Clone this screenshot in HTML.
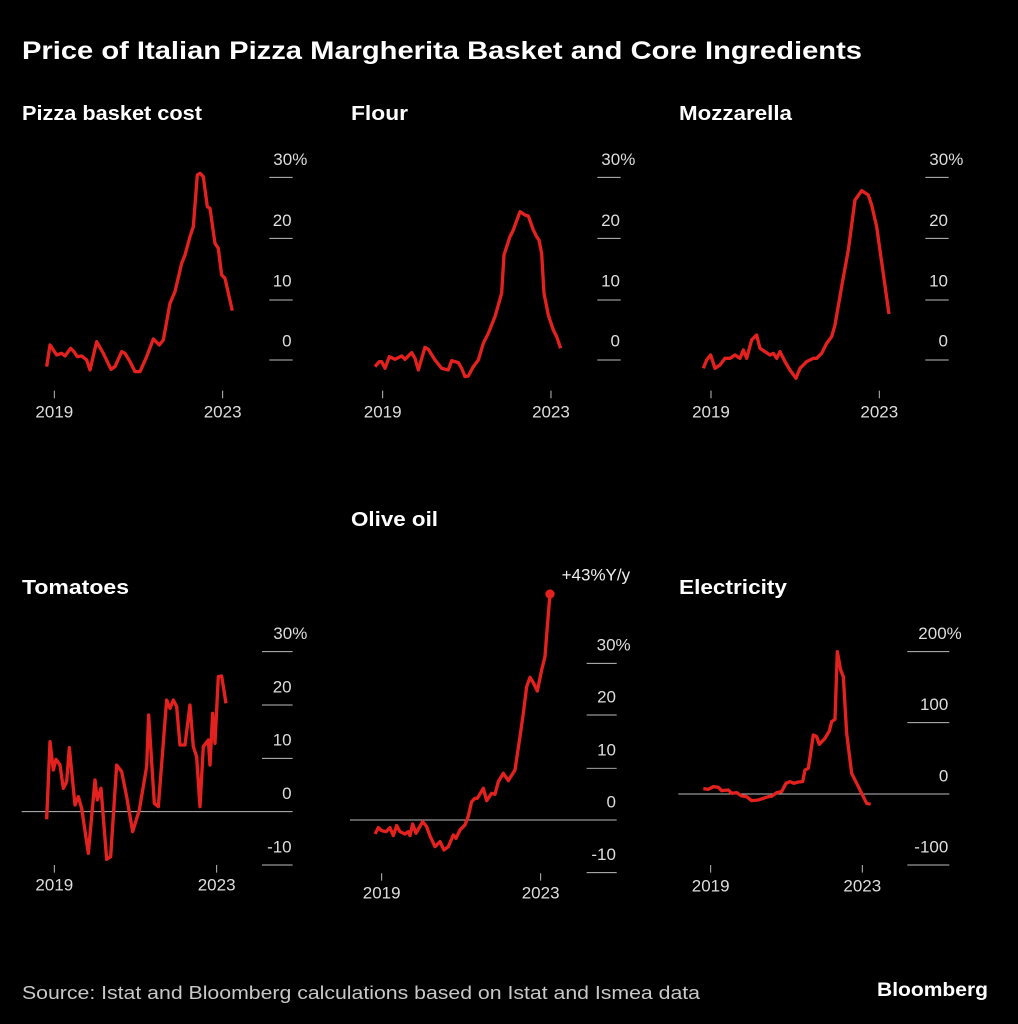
<!DOCTYPE html>
<html><head><meta charset="utf-8"><style>html,body{margin:0;padding:0;background:#000;}svg{display:block}</style></head>
<body>
<svg width="1018" height="1024" viewBox="0 0 1018 1024" xmlns="http://www.w3.org/2000/svg" font-family="Liberation Sans, sans-serif">
<rect width="1018" height="1024" fill="#000"/>
<text x="22" y="59" fill="#fff" font-size="25" font-weight="bold" textLength="840" lengthAdjust="spacingAndGlyphs">Price of Italian Pizza Margherita Basket and Core Ingredients</text>
<g fill="#fff" font-size="20" font-weight="bold">
<text x="22" y="120" textLength="180" lengthAdjust="spacingAndGlyphs">Pizza basket cost</text>
<text x="351" y="120" textLength="57" lengthAdjust="spacingAndGlyphs">Flour</text>
<text x="679" y="120" textLength="113" lengthAdjust="spacingAndGlyphs">Mozzarella</text>
<text x="22" y="594" textLength="107" lengthAdjust="spacingAndGlyphs">Tomatoes</text>
<text x="351" y="526" textLength="87" lengthAdjust="spacingAndGlyphs">Olive oil</text>
<text x="679" y="594" textLength="108" lengthAdjust="spacingAndGlyphs">Electricity</text>
</g>
<text x="22" y="999" fill="#c8c8c8" font-size="18" textLength="678" lengthAdjust="spacingAndGlyphs">Source: Istat and Bloomberg calculations based on Istat and Ismea data</text>
<text x="988" y="996" fill="#fff" font-size="19" font-weight="bold" text-anchor="end" textLength="111" lengthAdjust="spacingAndGlyphs">Bloomberg</text>

<!-- Pizza -->
<g transform="translate(0,140) scale(0.3333)">
<g stroke="#bbb" stroke-width="3"><line x1="808" x2="878" y1="112" y2="112"/><line x1="808" x2="878" y1="295" y2="295"/><line x1="808" x2="878" y1="480" y2="480"/><line x1="808" x2="878" y1="660" y2="660"/><line x1="163" x2="163" y1="752" y2="775"/><line x1="668" x2="668" y1="752" y2="775"/></g>
<g fill="#ddd" font-size="51"><text x="820" y="75">30%</text><text x="875" y="258" text-anchor="end">20</text><text x="875" y="440" text-anchor="end">10</text><text x="875" y="620" text-anchor="end">0</text><text x="163" y="832" text-anchor="middle">2019</text><text x="668" y="832" text-anchor="middle">2023</text></g>
<polyline fill="none" stroke="#e3211f" stroke-width="10" stroke-linejoin="round" points="140,680 150,615 170,645 185,640 195,648 212,625 222,635 232,650 245,648 260,660 270,690 290,605 310,640 333,688 345,680 365,635 375,640 390,665 405,695 420,695 440,650 460,597 478,615 490,600 510,490 525,455 545,370 555,345 570,290 580,260 592,105 600,100 610,110 622,200 630,205 645,310 655,325 665,405 675,415 697,512"/>
</g>

<!-- Flour -->
<g transform="translate(340,140) scale(0.3333)">
<g stroke="#bbb" stroke-width="3"><line x1="772" x2="842" y1="112" y2="112"/><line x1="772" x2="842" y1="295" y2="295"/><line x1="772" x2="842" y1="480" y2="480"/><line x1="772" x2="842" y1="660" y2="660"/><line x1="128" x2="128" y1="752" y2="775"/><line x1="633" x2="633" y1="752" y2="775"/></g>
<g fill="#ddd" font-size="51"><text x="784" y="75">30%</text><text x="840" y="258" text-anchor="end">20</text><text x="840" y="440" text-anchor="end">10</text><text x="840" y="620" text-anchor="end">0</text><text x="128" y="832" text-anchor="middle">2019</text><text x="633" y="832" text-anchor="middle">2023</text></g>
<polyline fill="none" stroke="#e3211f" stroke-width="10" stroke-linejoin="round" points="105,680 118,665 125,665 135,685 148,650 165,658 185,648 195,658 215,638 225,655 235,690 255,622 265,628 285,660 305,685 325,690 335,662 355,668 365,685 375,710 385,708 400,680 415,660 430,610 445,580 465,530 485,460 492,345 510,290 520,270 540,215 555,225 565,228 580,270 590,290 597,300 605,340 612,460 625,525 640,570 650,590 662,625"/>
</g>

<!-- Mozzarella -->
<g transform="translate(670,140) scale(0.3333)">
<g stroke="#bbb" stroke-width="3"><line x1="766" x2="836" y1="112" y2="112"/><line x1="766" x2="836" y1="295" y2="295"/><line x1="766" x2="836" y1="480" y2="480"/><line x1="766" x2="836" y1="660" y2="660"/><line x1="123" x2="123" y1="752" y2="775"/><line x1="628" x2="628" y1="752" y2="775"/></g>
<g fill="#ddd" font-size="51"><text x="778" y="75">30%</text><text x="834" y="258" text-anchor="end">20</text><text x="834" y="440" text-anchor="end">10</text><text x="834" y="620" text-anchor="end">0</text><text x="123" y="832" text-anchor="middle">2019</text><text x="628" y="832" text-anchor="middle">2023</text></g>
<polyline fill="none" stroke="#e3211f" stroke-width="10" stroke-linejoin="round" points="100,685 110,660 122,645 135,685 150,675 165,655 180,655 195,645 210,655 220,630 230,655 245,600 260,585 270,625 285,635 300,645 310,640 320,655 330,635 345,665 360,690 378,715 390,685 410,665 430,655 440,655 455,640 470,610 485,590 495,555 515,440 535,330 555,180 575,152 595,165 605,195 620,260 657,522"/>
</g>

<!-- Tomatoes -->
<g transform="translate(0,600) scale(0.3333)">
<g stroke="#bbb" stroke-width="3"><line x1="786" x2="878" y1="155" y2="155"/><line x1="786" x2="878" y1="315" y2="315"/><line x1="786" x2="878" y1="475" y2="475"/><line x1="65" x2="878" y1="635" y2="635"/><line x1="786" x2="878" y1="795" y2="795"/><line x1="163" x2="163" y1="795" y2="818"/><line x1="650" x2="650" y1="795" y2="818"/></g>
<g fill="#ddd" font-size="51"><text x="820" y="117">30%</text><text x="875" y="277" text-anchor="end">20</text><text x="875" y="437" text-anchor="end">10</text><text x="875" y="597" text-anchor="end">0</text><text x="875" y="757" text-anchor="end">-10</text><text x="163" y="872" text-anchor="middle">2019</text><text x="650" y="872" text-anchor="middle">2023</text></g>
<polyline fill="none" stroke="#e3211f" stroke-width="10" stroke-linejoin="round" points="140,658 150,425 160,510 168,478 180,495 190,565 200,545 208,443 225,615 235,590 245,625 265,760 285,540 292,600 303,565 320,778 332,770 350,495 365,515 380,590 398,695 418,630 440,500 446,345 463,610 475,620 500,300 510,325 520,300 530,320 540,435 555,435 570,315 580,440 590,470 600,620 610,440 625,420 630,495 638,340 645,430 655,230 665,228 678,310"/>
</g>

<!-- Olive oil -->
<g transform="translate(340,560) scale(0.3333)">
<g stroke="#bbb" stroke-width="3"><line x1="740" x2="830" y1="310" y2="310"/><line x1="740" x2="830" y1="465" y2="465"/><line x1="740" x2="830" y1="625" y2="625"/><line x1="30" x2="830" y1="780" y2="780"/><line x1="740" x2="830" y1="938" y2="938"/><line x1="125" x2="125" y1="940" y2="962"/><line x1="602" x2="602" y1="940" y2="962"/></g>
<g fill="#ddd" font-size="51"><text x="770" y="272">30%</text><text x="828" y="427" text-anchor="end">20</text><text x="828" y="587" text-anchor="end">10</text><text x="828" y="742" text-anchor="end">0</text><text x="828" y="900" text-anchor="end">-10</text><text x="125" y="1015" text-anchor="middle">2019</text><text x="602" y="1015" text-anchor="middle">2023</text></g>
<text x="665" y="62" fill="#eee" font-size="51">+43%Y/y</text>
<polyline fill="none" stroke="#e3211f" stroke-width="10" stroke-linejoin="round" points="105,822 115,803 125,812 138,815 150,803 160,827 170,797 180,815 195,822 205,815 210,827 218,792 228,820 248,785 260,800 270,828 285,860 300,845 312,870 325,860 340,825 348,835 360,810 375,795 385,768 395,725 405,715 412,715 430,685 440,722 455,700 465,703 475,665 490,640 505,662 525,630 540,530 550,460 560,380 570,352 580,368 592,393 605,330 615,290 622,200 630,102"/>
<circle cx="630" cy="102" r="14" fill="#e3211f"/>
</g>

<!-- Electricity -->
<g transform="translate(670,600) scale(0.3333)">
<g stroke="#bbb" stroke-width="3"><line x1="712" x2="838" y1="155" y2="155"/><line x1="712" x2="838" y1="368" y2="368"/><line x1="25" x2="838" y1="582" y2="582"/><line x1="712" x2="838" y1="795" y2="795"/><line x1="122" x2="122" y1="795" y2="818"/><line x1="577" x2="577" y1="795" y2="818"/></g>
<g fill="#ddd" font-size="51"><text x="745" y="117">200%</text><text x="835" y="330" text-anchor="end">100</text><text x="835" y="544" text-anchor="end">0</text><text x="835" y="757" text-anchor="end">-100</text><text x="122" y="874" text-anchor="middle">2019</text><text x="577" y="874" text-anchor="middle">2023</text></g>
<polyline fill="none" stroke="#e3211f" stroke-width="10" stroke-linejoin="round" points="100,566 115,568 130,560 145,562 155,572 175,570 185,580 200,578 215,588 230,590 245,602 265,600 280,595 295,590 305,589 320,578 335,575 348,550 360,545 372,550 385,546 398,545 405,510 415,505 430,405 440,410 448,433 465,415 478,393 485,365 495,358 502,155 512,210 520,230 530,400 545,520 560,550 575,580 590,610 602,613"/>
</g>
</svg>
</body></html>
